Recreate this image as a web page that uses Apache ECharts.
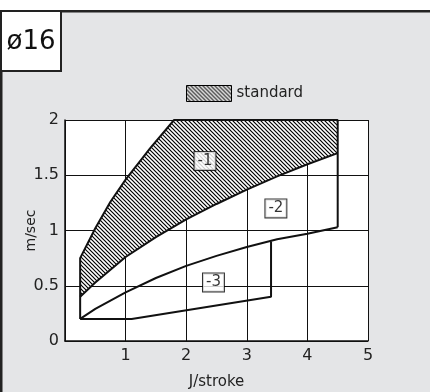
<!DOCTYPE html>
<html>
<head>
<meta charset="utf-8">
<script src="https://cdn.jsdelivr.net/npm/echarts@6/dist/echarts.min.js"></script>
<style>
  html, body { margin: 0; padding: 0; background: #e4e5e7; }
  #chart { width: 430px; height: 392px; }
</style>
</head>
<body>
<div id="chart"></div>
<script>
// outline of the whole working range (left edge, upper curve, top, right edge)
const outerEdge = [[0.25, 0.2], [0.25, 0.75], [0.5, 1.02], [0.75, 1.26], [1, 1.46], [1.4, 1.74], [1.8, 2], [4.5, 2], [4.5, 1.03]]
// boundary between -1 (standard) and -2
const curve12 = [[0.25, 0.4], [0.5, 0.53], [1, 0.76], [1.5, 0.94], [2, 1.1], [2.5, 1.24], [3, 1.37], [3.5, 1.49], [4, 1.6], [4.5, 1.7]]
// boundary between -2 and -3
const curve23 = [[0.25, 0.2], [0.5, 0.29], [1, 0.44], [1.5, 0.57], [2, 0.68], [2.5, 0.77], [3, 0.85], [3.5, 0.92], [4, 0.97], [4.5, 1.03]]
// lower edge of -3
const edge3 = [[0.25, 0.2], [1.1, 0.2], [3.4, 0.4], [3.4, 0.9]]
// hatched "standard" area
const standardArea = outerEdge.slice(1, 8).concat([[4.5, 1.7]]).concat(curve12.slice().reverse())
// region labels
const regionLabels = [[2.31, 1.63, '-1'], [3.48, 1.2, '-2'], [2.45, 0.53, '-3']]
const xTicks = [0, 1, 2, 3, 4, 5]
const yTicks = [0, 0.5, 1, 1.5, 2]

const font = 'DejaVu Sans'

function makeHatch() {
  const c = document.createElement('canvas')
  c.width = 4
  c.height = 4
  const ctx = c.getContext('2d')
  ctx.fillStyle = '#fff'
  ctx.fillRect(0, 0, 4, 4)
  ctx.strokeStyle = '#000'
  ctx.lineWidth = 1.2
  ctx.beginPath()
  ctx.moveTo(-1, -1); ctx.lineTo(5, 5)
  ctx.moveTo(-1, 3); ctx.lineTo(1, 5)
  ctx.moveTo(3, -1); ctx.lineTo(5, 1)
  ctx.stroke()
  return { image: c, repeat: 'repeat' }
}
const hatch = makeHatch()

const chart = echarts.init(document.getElementById('chart'))

function lineSeries(data) {
  return {
    type: 'line',
    data: data,
    symbol: 'none',
    silent: true,
    z: 4,
    lineStyle: { color: '#111', width: 2 }
  }
}

const option = {
  animation: false,
  backgroundColor: '#e4e5e7',
  grid: {
    left: 65, right: 62, top: 120, bottom: 51,
    containLabel: false, outerBoundsMode: 'none',
    show: true, backgroundColor: '#fff', borderWidth: 0
  },
  legend: {
    left: 181, top: 80,
    itemWidth: 45, itemHeight: 16, itemGap: 10,
    selectedMode: false,
    textStyle: { fontFamily: font, fontSize: 15, color: '#222' },
    data: [{
      name: 'standard',
      icon: 'rect',
      itemStyle: { color: hatch, borderColor: '#000', borderWidth: 1 }
    }]
  },
  xAxis: {
    type: 'value',
    min: xTicks[0], max: xTicks[xTicks.length - 1], interval: 1,
    name: 'J/stroke', nameLocation: 'middle', nameGap: 34, nameMoveOverlap: false,
    nameTextStyle: { fontFamily: font, fontSize: 15, color: '#222' },
    axisLine: { lineStyle: { color: '#111', width: 1.5 } },
    axisTick: { show: false },
    axisLabel: {
      margin: 7, fontFamily: font, fontSize: 16, color: '#222',
      formatter: v => (v === 0 ? '' : String(v))
    },
    splitLine: { lineStyle: { color: '#111', width: 1 } }
  },
  yAxis: {
    type: 'value',
    min: yTicks[0], max: yTicks[yTicks.length - 1], interval: 0.5,
    name: 'm/sec', nameLocation: 'middle', nameGap: 27, nameMoveOverlap: false,
    nameTextStyle: { fontFamily: font, fontSize: 14, color: '#222' },
    axisLine: { show: true, lineStyle: { color: '#111', width: 1.5 } },
    axisTick: { show: false },
    axisLabel: { margin: 6, fontFamily: font, fontSize: 16, color: '#222' },
    splitLine: { lineStyle: { color: '#111', width: 1 } }
  },
  graphic: [
    { type: 'rect', shape: { x: 0, y: 0, width: 430, height: 10 }, style: { fill: '#fff' }, z: 100 },
    { type: 'rect', shape: { x: 0, y: 10, width: 430, height: 2.5 }, style: { fill: '#222' }, z: 100 },
    { type: 'rect', shape: { x: 0, y: 10, width: 2.5, height: 382 }, style: { fill: '#222' }, z: 100 },
    {
      type: 'rect', shape: { x: 1, y: 11, width: 60, height: 60 },
      style: { fill: '#fff', stroke: '#222', lineWidth: 2 }, z: 101
    },
    {
      type: 'text', x: 31, y: 42, z: 102,
      style: { text: 'ø16', font: '26px "' + font + '"', fill: '#111', align: 'center', verticalAlign: 'middle' }
    }
  ],
  series: [
    {
      name: 'standard',
      type: 'custom',
      data: standardArea,
      encode: { x: 0, y: 1 },
      silent: true,
      z: 3,
      itemStyle: { color: hatch },
      renderItem: function (params, api) {
        if (params.dataIndex !== 0) return
        const pts = standardArea.map(p => api.coord(p))
        return { type: 'polygon', shape: { points: pts }, style: { fill: hatch, stroke: null } }
      }
    },
    lineSeries(outerEdge),
    lineSeries(curve12),
    lineSeries(curve23),
    lineSeries(edge3),
    {
      type: 'scatter',
      data: regionLabels,
      symbolSize: 0,
      silent: true,
      z: 6,
      label: {
        show: true,
        position: 'inside',
        formatter: p => p.value[2],
        fontFamily: font, fontSize: 15, color: '#000',
        backgroundColor: '#fff', borderColor: '#000', borderWidth: 1,
        padding: [2, 3, 1, 3]
      }
    }
  ]
}

chart.setOption(option)
</script>
</body>
</html>
